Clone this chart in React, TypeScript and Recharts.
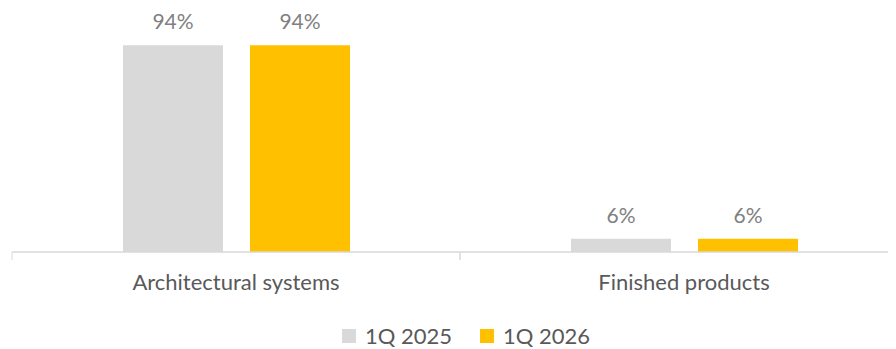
import React from "react";
import { BarChart, Bar, XAxis, YAxis, LabelList } from "recharts";

const categories = ["Architectural systems", "Finished products"];
const series2025 = [94, 6];
const series2026 = [94, 6];
const seriesNames = ["1Q 2025", "1Q 2026"];
const seriesColors = ["#D9D9D9", "#FFC000"];

const data = categories.map((c, i) => ({ name: c, s1: series2025[i], s2: series2026[i] }));

const FONT = "Lato, 'Open Sans', sans-serif";

const Tick = (props: any) => {
  const { x, y, payload } = props;
  const half = payload && typeof payload.offset === "number" && payload.offset > 0 ? payload.offset : 224;
  return (
    <g>
      <line x1={x - half} x2={x - half} y1={y} y2={y + 8} stroke="#D9D9D9" strokeWidth={1} />
      <line x1={x + half} x2={x + half} y1={y} y2={y + 8} stroke="#D9D9D9" strokeWidth={1} />
      <text x={x} y={y + 38} textAnchor="middle" fill="#595959" fontSize={22} fontFamily={FONT}>
        {payload.value}
      </text>
    </g>
  );
};

const LegendContent = () => (
  <div style={{ display: "flex", justifyContent: "center", alignItems: "center", fontFamily: FONT, fontSize: 22, lineHeight: "20px", color: "#595959" }}>
    {seriesNames.map((n, i) => (
      <div key={n} style={{ display: "flex", alignItems: "center", marginRight: i === 0 ? 28 : 0 }}>
        <div style={{ width: 14, height: 14, background: seriesColors[i], marginRight: 9 }} />
        <span>{n}</span>
      </div>
    ))}
  </div>
);

export default function App() {
  return (
    <div style={{ position: "relative", width: 888, height: 341 }}>
      <div style={{ width: 888, height: 300, overflow: "hidden" }}>
        <BarChart
          width={904}
          height={288}
          data={data}
          margin={{ top: 24, right: 4, left: 4, bottom: 0 }}
          barGap={27}
          barSize={100}
        >
          <XAxis
            dataKey="name"
            axisLine={{ stroke: "#D9D9D9", strokeWidth: 1.5 }}
            tickLine={false}
            tickSize={0}
            tickMargin={0}
            tick={<Tick />}
            height={44}
            interval={0}
          />
          <YAxis hide domain={[0, 100]} />
          <Bar dataKey="s1" name={seriesNames[0]} fill={seriesColors[0]} isAnimationActive={false}>
            <LabelList dataKey="s1" position="top" offset={16} formatter={(v: any) => `${v}%`} fill="#808080" fontSize={21} fontFamily={FONT} />
          </Bar>
          <Bar dataKey="s2" name={seriesNames[1]} fill={seriesColors[1]} isAnimationActive={false}>
            <LabelList dataKey="s2" position="top" offset={16} formatter={(v: any) => `${v}%`} fill="#808080" fontSize={21} fontFamily={FONT} />
          </Bar>
        </BarChart>
      </div>
      <div style={{ position: "absolute", left: 6, width: 904, top: 318 }}>
        <LegendContent />
      </div>
    </div>
  );
}
